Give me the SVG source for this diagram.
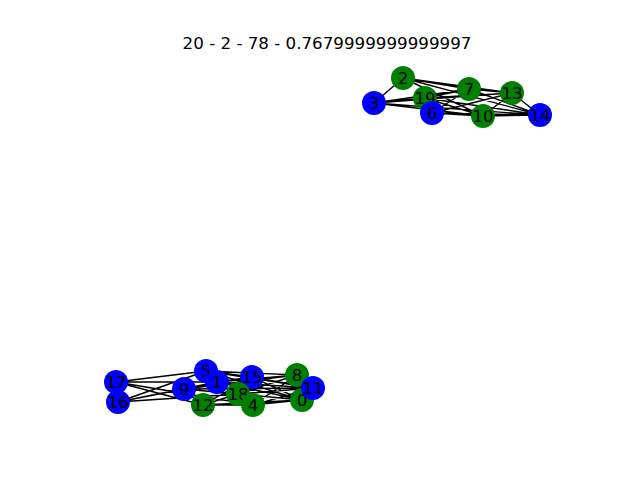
<svg xmlns="http://www.w3.org/2000/svg" width="640" height="480" viewBox="0 0 640 480">
<style>
.e{stroke:#000;stroke-width:1.4;fill:none}
.b{fill:#0000ff}
.g{fill:#008000}
text{font-family:"DejaVu Sans",sans-serif;font-size:16.7px;fill:#000;text-anchor:middle}
</style>
<rect width="640" height="480" fill="#fff"/>
<text x="327" y="49">20 - 2 - 78 - 0.7679999999999997</text>
<g id="edges">
<path class="e" d="M403,78L374,103M403,78L469,89M403,78L512,93M403,78L540,115M403,78L483,116M374,103L425,98M374,103L469,89M374,103L512,93M374,103L483,116M374,103L540,115M425,98L469,89M425,98L512,93M425,98L540,115M425,98L483,116M432,113L469,89M432,113L512,93M432,113L483,116M432,113L540,115M469,89L512,93M469,89L540,115M512,93L540,115M483,116L512,93M483,116L540,115"/>
<path class="e" d="M116,382L206,371M116,382L217,382M116,382L203,405M116,382L253,405M118,402L206,371M118,402L184,389M118,402L217,382M118,402L238,394M184,389L252,377M184,389L297,375M184,389L302,400M184,389L313,388M206,371L252,377M206,371L297,375M206,371L313,388M206,371L302,400M217,382L297,375M217,382L313,388M217,382L302,400M217,382L252,377M203,405L252,377M203,405L297,375M203,405L302,400M203,405L253,405M238,394L297,375M238,394L313,388M238,394L302,400M253,405L297,375M253,405L313,388M253,405L302,400M252,377L302,400M252,377L313,388"/>
</g>
<g id="n2"><circle class="g" cx="403" cy="78" r="12"/><text x="403" y="84">2</text></g>
<g id="n3"><circle class="b" cx="374" cy="103" r="12"/><text x="374" y="109">3</text></g>
<g id="n19"><circle class="g" cx="425" cy="98" r="12"/><text x="425" y="104">19</text></g>
<g id="n6"><circle class="b" cx="432" cy="113" r="12"/><text x="432" y="119">6</text></g>
<g id="n7"><circle class="g" cx="469" cy="89" r="12"/><text x="469" y="95">7</text></g>
<g id="n13"><circle class="g" cx="512" cy="93" r="12"/><text x="512" y="99">13</text></g>
<g id="n10"><circle class="g" cx="483" cy="116" r="12"/><text x="483" y="122">10</text></g>
<g id="n14"><circle class="b" cx="540" cy="115" r="12"/><text x="540" y="121">14</text></g>
<g id="n17"><circle class="b" cx="116" cy="382" r="12"/><text x="116" y="388">17</text></g>
<g id="n16"><circle class="b" cx="118" cy="402" r="12"/><text x="118" y="408">16</text></g>
<g id="n9"><circle class="b" cx="184" cy="389" r="12"/><text x="184" y="395">9</text></g>
<g id="n12"><circle class="g" cx="203" cy="405" r="12"/><text x="203" y="411">12</text></g>
<g id="n5"><circle class="b" cx="206" cy="371" r="12"/><text x="206" y="377">5</text></g>
<g id="n1"><circle class="b" cx="217" cy="382" r="12"/><text x="217" y="388">1</text></g>
<g id="n15"><circle class="b" cx="252" cy="377" r="12"/><text x="252" y="383">15</text></g>
<g id="n18"><circle class="g" cx="238" cy="394" r="12"/><text x="238" y="400">18</text></g>
<g id="n4"><circle class="g" cx="253" cy="405" r="12"/><text x="253" y="411">4</text></g>
<g id="n8"><circle class="g" cx="297" cy="375" r="12"/><text x="297" y="381">8</text></g>
<g id="n0"><circle class="g" cx="302" cy="400" r="12"/><text x="302" y="406">0</text></g>
<g id="n11"><circle class="b" cx="313" cy="388" r="12"/><text x="313" y="394">11</text></g>
</svg>
